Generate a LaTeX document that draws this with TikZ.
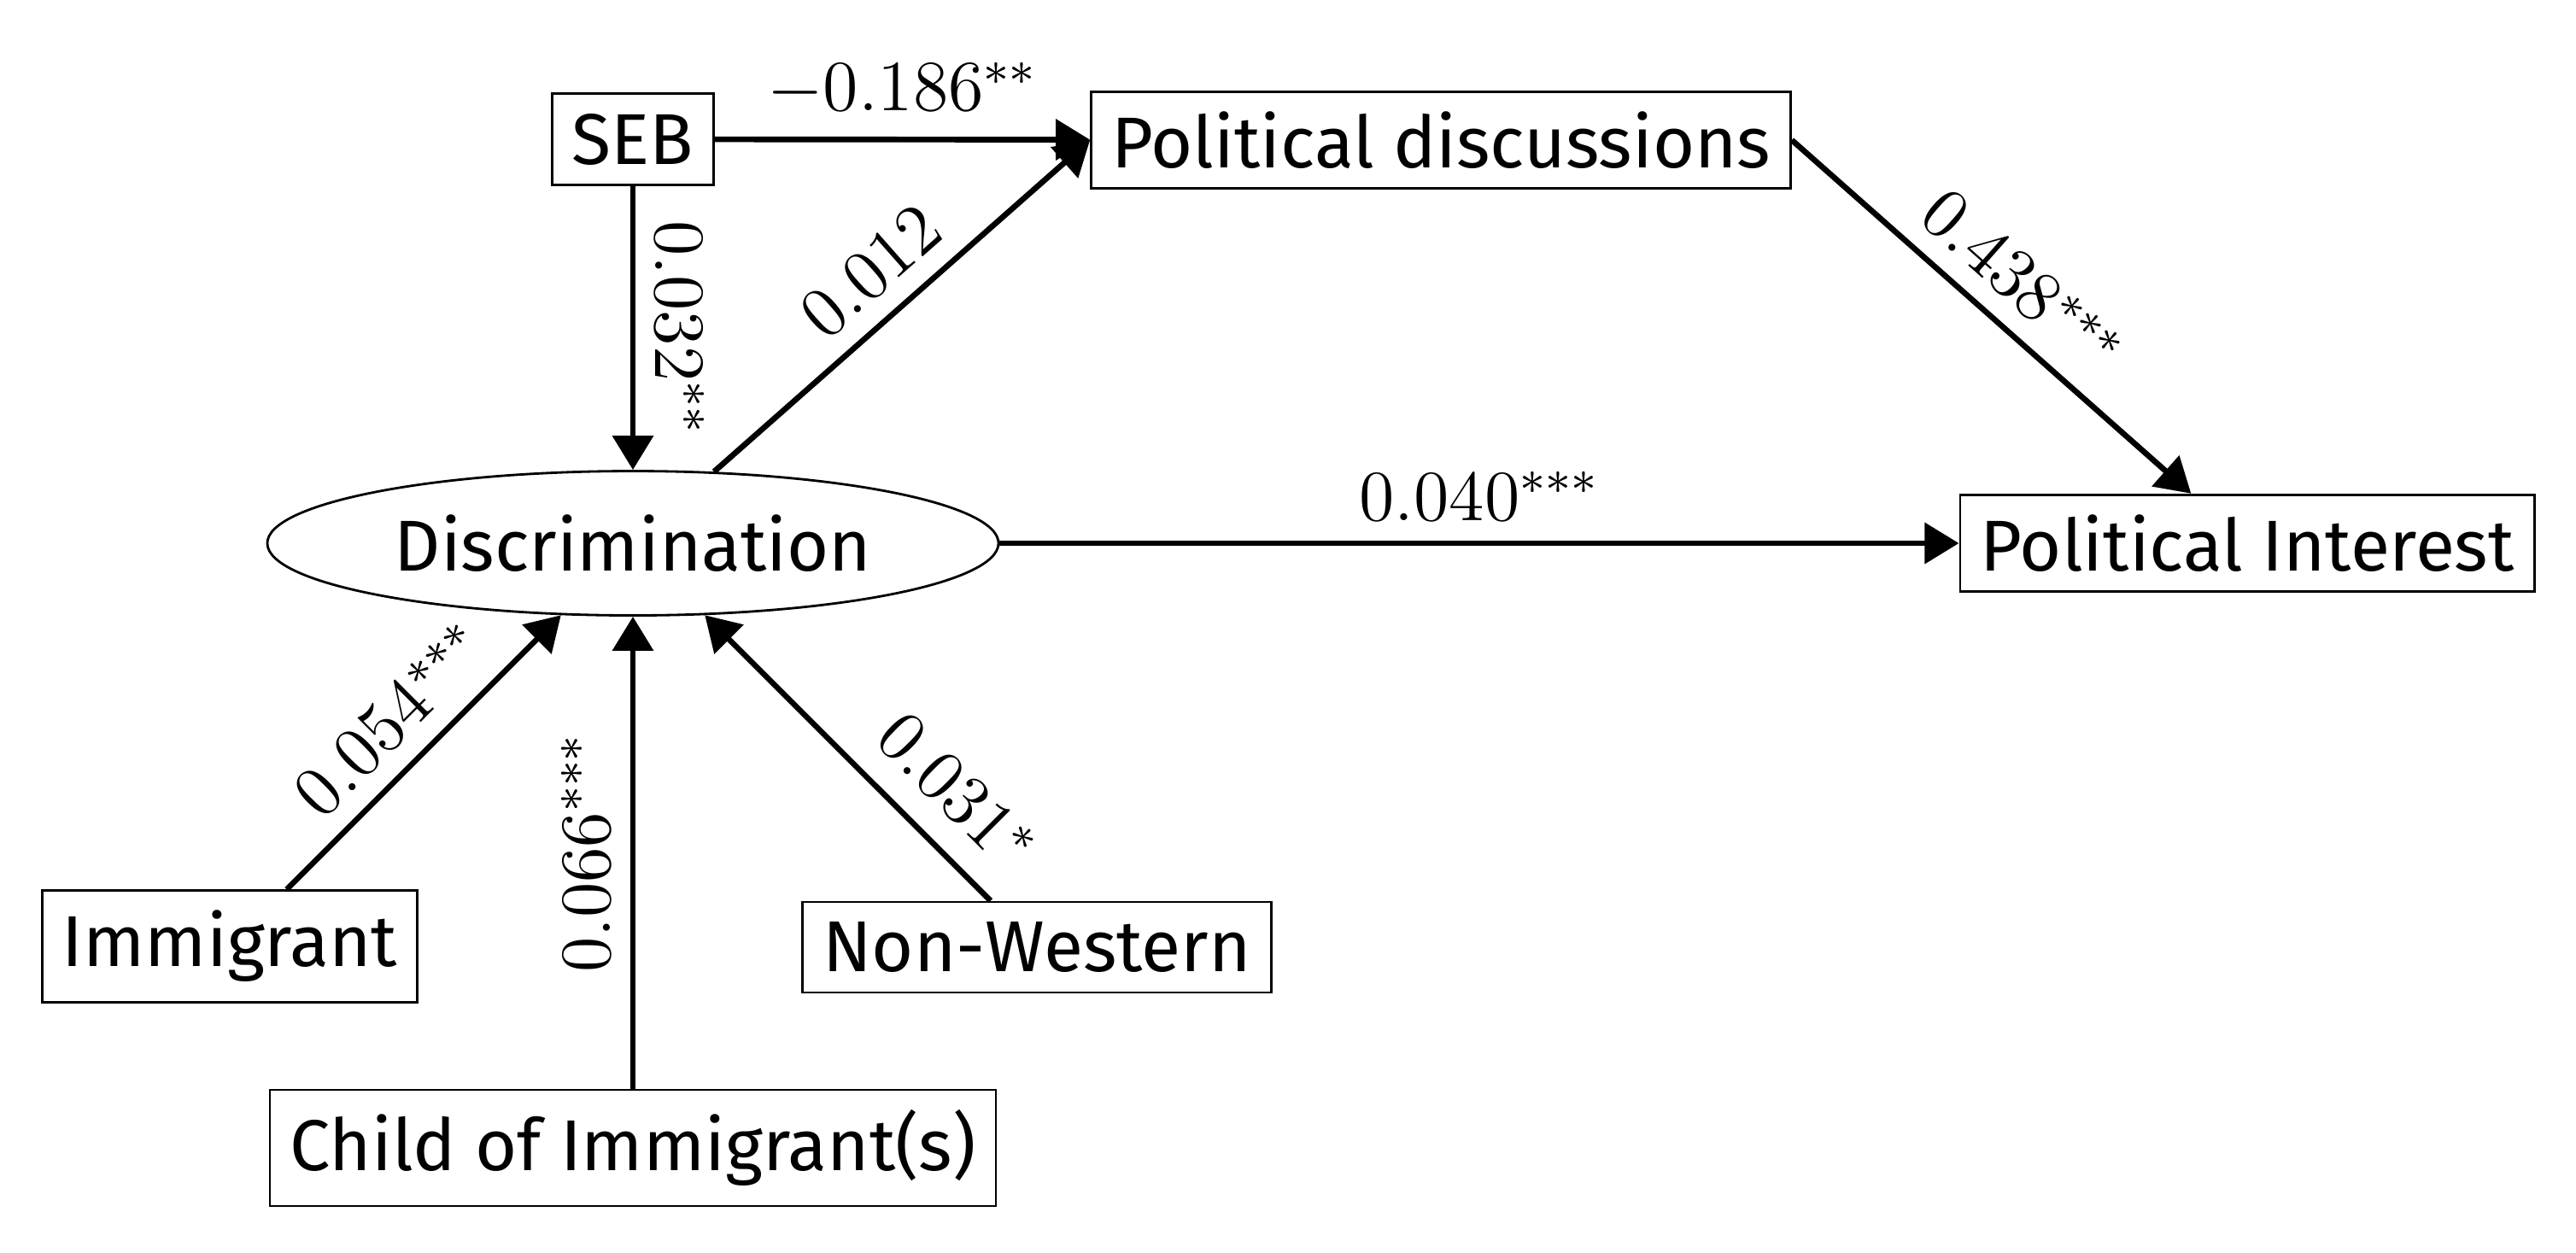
\documentclass[tikz,border=0pt]{standalone}
\usepackage{fontspec}
\setmainfont{Fira Sans}
\usetikzlibrary{shapes.geometric,arrows.meta}
\begin{document}
\begin{tikzpicture}
[box/.style ={draw, font=\fontsize{12}{14}\selectfont},
 oval/.style ={draw, ellipse, minimum width=4.27cm, minimum height=0.845cm, font=\fontsize{12}{14}\selectfont},
 effect/.style ={-{Triangle[length=5.7pt,width=6.7pt]}, line width=0.95pt},
 coef/.style ={font=\fontsize{11.5}{13}\selectfont, sloped, above}]
\useasboundingbox (0,0) rectangle (15.08,-7.33);
\node[box] (seb) at (3.705,-0.815) {SEB};
\node[box] (pd) at (8.435,-0.82) {Political discussions};
\node[oval] (disc) at (3.705,-3.18) {Discrimination};
\node[box] (pi) at (13.155,-3.18) {Political Interest};
\node[box] (imm) at (1.345,-5.54) {Immigrant};
\node[box] (nw) at (6.07,-5.545) {Non-Western};
\node[box] (child) at (3.705,-6.72) {Child of Immigrant(s)};
\draw[effect] (seb) -- (pd) node[coef, midway]{$-0.186^{**}$};
\draw[effect] (seb) -- (disc) node[coef, midway]{$0.032^{**}$};
\draw[effect] (disc) -- (pd.west) node[coef, midway]{$0.012$};
\draw[effect] (pd.east) -- (pi) node[coef, midway]{$0.438^{***}$};
\draw[effect] (disc) -- (pi) node[coef, midway]{$0.040^{***}$};
\draw[effect] (imm) -- (disc) node[coef, midway]{$0.054^{***}$};
\draw[effect] (child) -- (disc) node[coef, midway]{$0.066^{***}$};
\draw[effect] (nw) -- (disc) node[coef, near start, inner sep=4.5pt]{$0.031^{*}$};
\end{tikzpicture}
\end{document}
